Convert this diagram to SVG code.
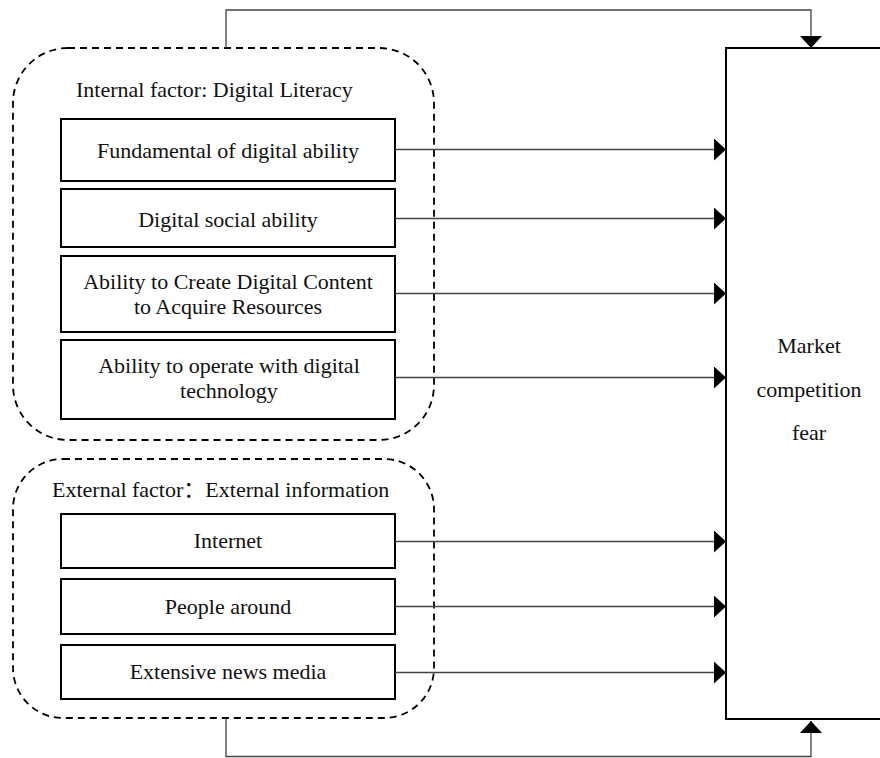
<svg xmlns="http://www.w3.org/2000/svg" width="880" height="758" viewBox="0 0 880 758">
<style>
text{font-family:'Liberation Serif','Times New Roman',Tinos,'DejaVu Serif',serif;font-size:22px;fill:#111}
.cjk{font-family:'Noto Sans CJK SC','Noto Serif CJK SC',serif}
.c{text-anchor:middle}
.box{fill:#fff;stroke:#000;stroke-width:2}
.grp{fill:none;stroke:#000;stroke-width:1.8;stroke-dasharray:7 5}
.con{fill:none;stroke:#444;stroke-width:1.3}
</style>
<defs>
<marker id="ah" markerUnits="userSpaceOnUse" markerWidth="12" markerHeight="22" refX="12" refY="11" orient="auto" viewBox="0 0 12 22">
<path d="M0,0 L12,11 L0,22 Z" fill="#000"/>
</marker>
</defs>
<rect width="880" height="758" fill="#fff"/>
<g id="internal-group">
<rect class="grp" x="13" y="48" width="421" height="392" rx="55"/>
<text x="76" y="97">Internal factor: Digital Literacy</text>
</g>
<g id="external-group">
<rect class="grp" x="13" y="459" width="421" height="259" rx="50"/>
<text x="52" y="497">External factor<tspan class="cjk">：</tspan>External information</text>
</g>
<g id="market">
<rect class="box" x="726" y="48" width="180" height="671"/>
<text class="c" x="809" y="353">Market</text>
<text class="c" x="809" y="397">competition</text>
<text class="c" x="809" y="440">fear</text>
</g>
<g id="fundamental">
<rect class="box" x="61" y="119" width="334" height="62"/>
<text class="c" x="228" y="158">Fundamental of digital ability</text>
</g>
<g id="social">
<rect class="box" x="61" y="189" width="334" height="58"/>
<text class="c" x="228" y="227">Digital social ability</text>
</g>
<g id="create">
<rect class="box" x="61" y="256" width="334" height="76"/>
<text class="c" x="228" y="289">Ability to Create Digital Content</text>
<text class="c" x="228" y="314">to Acquire Resources</text>
</g>
<g id="operate">
<rect class="box" x="61" y="340" width="334" height="79"/>
<text class="c" x="229" y="373">Ability to operate with digital</text>
<text class="c" x="229" y="398">technology</text>
</g>
<g id="internet">
<rect class="box" x="61" y="514" width="334" height="54"/>
<text class="c" x="228" y="548">Internet</text>
</g>
<g id="people">
<rect class="box" x="61" y="579" width="334" height="55"/>
<text class="c" x="228" y="614">People around</text>
</g>
<g id="news">
<rect class="box" x="61" y="645" width="334" height="54"/>
<text class="c" x="228" y="679">Extensive news media</text>
</g>
<g id="connectors">
<path class="con" d="M395,149.5 H726" marker-end="url(#ah)"/>
<path class="con" d="M395,218.5 H726" marker-end="url(#ah)"/>
<path class="con" d="M395,293.5 H726" marker-end="url(#ah)"/>
<path class="con" d="M395,377.5 H726" marker-end="url(#ah)"/>
<path class="con" d="M395,541.5 H726" marker-end="url(#ah)"/>
<path class="con" d="M395,606.5 H726" marker-end="url(#ah)"/>
<path class="con" d="M395,672.5 H726" marker-end="url(#ah)"/>
<path class="con" d="M226,48 V10 H811 V48" marker-end="url(#ah)"/>
<path class="con" d="M226,718 V756.5 H811 V721" marker-end="url(#ah)"/>
</g>
</svg>
